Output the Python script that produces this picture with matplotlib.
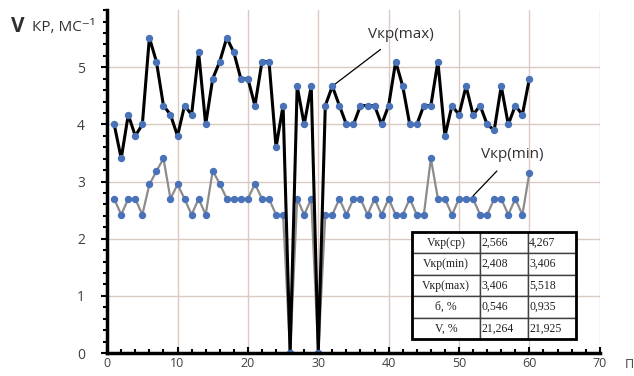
import numpy as np
import matplotlib
matplotlib.use("Agg")
import matplotlib.pyplot as plt
from matplotlib.ticker import MultipleLocator

plt.rcParams['font.family'] = ['Open Sans', 'DejaVu Sans']

# measurement number and critical speeds, m/s
n = list(range(1, 61))
v_max = [4.0, 3.406, 4.17, 3.8, 4.0, 5.518, 5.1, 4.33, 4.17, 3.8,
         4.33, 4.17, 5.26, 4.0, 4.8, 5.1, 5.518, 5.26, 4.8, 4.8,
         4.33, 5.1, 5.1, 3.6, 4.33, 0.0, 4.67, 4.0, 4.67, 0.0,
         4.33, 4.67, 4.33, 4.0, 4.0, 4.33, 4.33, 4.33, 4.0, 4.33,
         5.1, 4.67, 4.0, 4.0, 4.33, 4.33, 5.1, 3.8, 4.33, 4.17,
         4.67, 4.17, 4.33, 4.0, 3.9, 4.67, 4.0, 4.33, 4.17, 4.8]
v_min = [2.70, 2.42, 2.70, 2.70, 2.42, 2.95, 3.18, 3.406, 2.70, 2.95,
         2.70, 2.42, 2.70, 2.42, 3.19, 2.96, 2.70, 2.70, 2.70, 2.70,
         2.96, 2.70, 2.70, 2.42, 2.42, 0.0, 2.70, 2.42, 2.70, 0.0,
         2.42, 2.42, 2.70, 2.42, 2.70, 2.70, 2.42, 2.70, 2.42, 2.70,
         2.42, 2.42, 2.70, 2.42, 2.42, 3.406, 2.70, 2.70, 2.42, 2.70,
         2.70, 2.70, 2.42, 2.42, 2.70, 2.70, 2.42, 2.70, 2.42, 3.15]

row_names = ["Vкр(ср)", "Vкр(min)", "Vкр(max)", "б, %", "V, %"]
col_min = ["2,566", "2,408", "3,406", "0,546", "21,264"]
col_max = ["4,267", "3,406", "5,518", "0,935", "21,925"]

fig = plt.figure(figsize=(6.34, 3.76), dpi=100)
ax = fig.add_axes([0.169, 0.061, 0.777, 0.912])

dot = "#4a72b8"
ax.plot(n, v_min, color="#8c8c8c", lw=1.6, marker="o", ms=4.3,
        mfc=dot, mec=dot, zorder=3)
ax.plot(n, v_max, color="black", lw=2.2, marker="o", ms=4.3,
        mfc=dot, mec=dot, zorder=4)

ax.set_xlim(0, 70)
ax.set_ylim(0, 6)
ax.xaxis.set_major_locator(MultipleLocator(10))
ax.yaxis.set_major_locator(MultipleLocator(1))
ax.xaxis.set_minor_locator(MultipleLocator(2))
ax.yaxis.set_minor_locator(MultipleLocator(0.2))
ax.grid(True, which="major", color="#dacbc2", lw=1.0)
ax.set_axisbelow(True)

for s in ["top", "right"]:
    ax.spines[s].set_visible(False)
for s in ["left", "bottom"]:
    ax.spines[s].set_linewidth(2.5)
    ax.spines[s].set_zorder(5)

ax.tick_params(axis="both", which="both", color="black", width=1.5,
               labelsize=10, labelcolor="#404040")
ax.tick_params(axis="x", which="major", length=4, direction="in", pad=3,
               labelsize=9)
ax.tick_params(axis="x", which="minor", length=3, direction="in")
ax.tick_params(axis="y", which="major", length=4, direction="out", pad=12)
ax.tick_params(axis="y", which="minor", length=3, direction="out")
ax.set_yticks([0, 1, 2, 3, 4, 5])
ax.set_yticklabels(["0", "1", "2", "3", "4", "5"])

# axis titles
fig.text(0.018, 0.915, "V", fontsize=15, color="#303030", fontweight="bold")
fig.text(0.050, 0.918, "КР, МС⁻¹", fontsize=11, color="#303030")
fig.text(0.985, 0.03, "П", fontsize=9, color="#404040", va="center")

# series labels
ax.annotate("Vкр(max)", xy=(32, 4.67), xytext=(41.7, 5.58),
            ha="center", va="center", fontsize=11, color="#303030",
            arrowprops=dict(arrowstyle="-", color="black", lw=0.9,
                            shrinkA=6, shrinkB=0))
ax.annotate("Vкр(min)", xy=(52, 2.75), xytext=(57.6, 3.47),
            ha="center", va="center", fontsize=11, color="#303030",
            arrowprops=dict(arrowstyle="-", color="black", lw=0.9,
                            shrinkA=6, shrinkB=0))

# statistics table
cells = [[r, a, b] for r, a, b in zip(row_names, col_min, col_max)]
tbl = ax.table(cellText=cells, bbox=[0.619, 0.041, 0.332, 0.312],
               colWidths=[68, 48, 48], cellLoc="center", zorder=6)
tbl.auto_set_font_size(False)
for (r, c), cell in tbl.get_celld().items():
    cell.set_facecolor("white")
    cell.set_edgecolor("#404040")
    cell.set_linewidth(1.0)
    cell.get_text().set_fontfamily("Liberation Serif")
    cell.get_text().set_fontsize(8.5)
    cell.get_text().set_color("#202020")
    if c > 0:
        cell.get_text().set_ha("left")
        cell._loc = "left"
        cell.PAD = 0.03
# heavy outer frame
ax.add_patch(plt.Rectangle((0.619, 0.041), 0.332, 0.312, transform=ax.transAxes,
                           fill=False, ec="black", lw=2.0, zorder=7))

fig.savefig("out.png", dpi=100)
